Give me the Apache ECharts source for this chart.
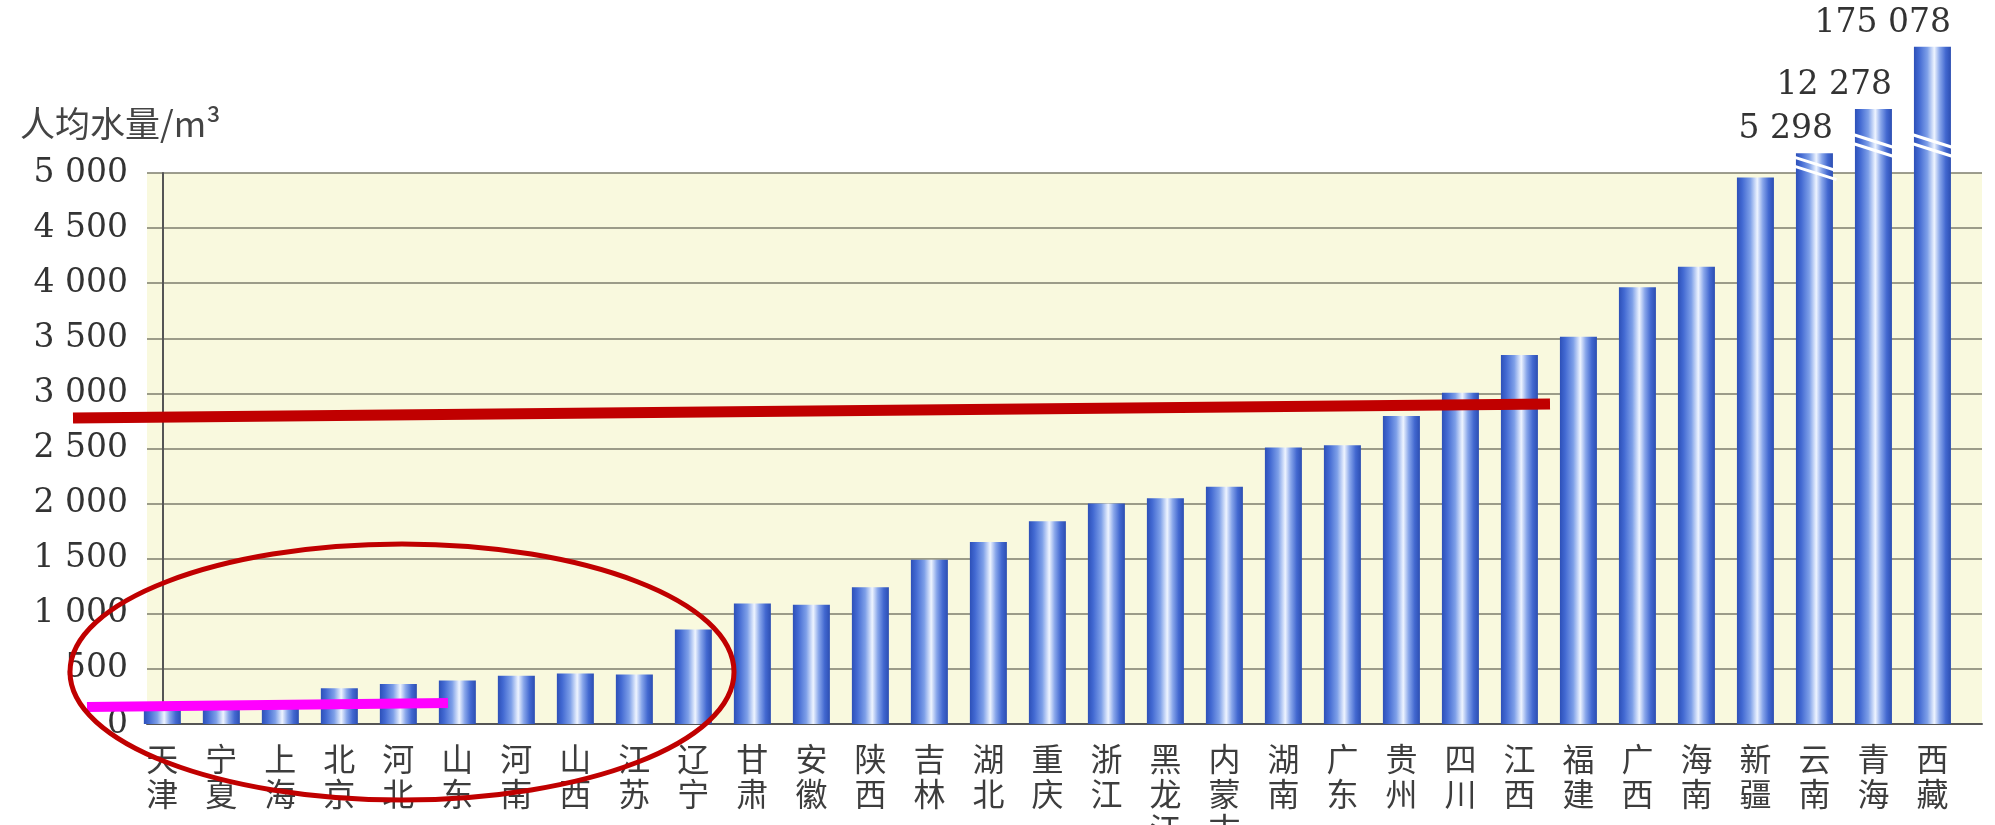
<!DOCTYPE html>
<html><head><meta charset="utf-8">
<script src="https://cdn.jsdelivr.net/npm/echarts@6/dist/echarts.min.js"></script>
<style>html,body{margin:0;padding:0;background:#fff}#c{width:1995px;height:825px}</style>
</head><body><div id="c"></div>
<script>
const categories = ['天津','宁夏','上海','北京','河北','山东','河南','山西','江苏','辽宁','甘肃','安徽','陕西','吉林','湖北','重庆','浙江','黑龙江','内蒙古','湖南','广东','贵州','四川','江西','福建','广西','海南','新疆','云南','青海','西藏'];
const waterPerCapita = [170,185,200,325,364,394,437,458,449,858,1093,1081,1241,1491,1651,1840,2000,2048,2154,2509,2530,2794,3005,3349,3514,3964,4150,4960,5298,12278,175078];
const brokenBars = ['云南','青海','西藏'];
const brokenBarDrawnValue = [5180, 5580, 6145];
const breakMarkValue = [5085, 5290, 5290];
const yTicks = [0,500,1000,1500,2000,2500,3000,3500,4000,4500,5000];

const fmt = v => String(v).replace(/\B(?=(\d{3})+(?!\d))/g, ' ');
const serif = "'DejaVu Serif', 'Liberation Serif', serif";
const cjk = "'Noto Sans CJK SC', sans-serif";

const chart = echarts.init(document.getElementById('c'));
const barColor = {
  type: 'linear', x: 0, y: 0, x2: 1, y2: 0,
  colorStops: [
    {offset: 0, color: '#2d50b8'},
    {offset: 0.14, color: '#4269d2'},
    {offset: 0.36, color: '#7d9fe8'},
    {offset: 0.55, color: '#eef4ff'},
    {offset: 0.7, color: '#87a5ea'},
    {offset: 0.86, color: '#4268d0'},
    {offset: 1, color: '#2c4eb2'}
  ]
};

const seriesData = categories.map((c, i) => {
  const b = brokenBars.indexOf(c);
  return [i, b >= 0 ? brokenBarDrawnValue[b] : waterPerCapita[i]];
});

chart.setOption({
  animation: false,
  backgroundColor: '#ffffff',
  title: {
    text: '人均水量/m³', left: 20, top: 106, padding: 0,
    textStyle: {fontFamily: cjk, fontSize: 35, fontWeight: 'normal', color: '#444'}
  },
  grid: {
    left: 147, right: 13, top: 173, bottom: 101,
    outerBoundsMode: 'none', containLabel: false,
    show: true, backgroundColor: '#f9f9de', borderWidth: 0
  },
  xAxis: {
    type: 'value', min: -0.26, max: 30.84,
    splitLine: {show: false},
    axisTick: {show: false},
    axisLine: {show: true, lineStyle: {color: '#555', width: 2}},
    axisLabel: {
      customValues: categories.map((c, i) => i),
      formatter: v => (categories[Math.round(v)] || '').split('').join('\n'),
      fontFamily: cjk, fontSize: 32, lineHeight: 35, color: '#3d3d3d', margin: 17
    }
  },
  yAxis: {
    type: 'value', min: yTicks[0], max: yTicks[yTicks.length - 1], interval: yTicks[1] - yTicks[0],
    axisLine: {show: true, lineStyle: {color: '#555', width: 2}},
    axisTick: {show: false},
    splitLine: {show: true, lineStyle: {color: '#7d7d6c', width: 1.5}},
    axisLabel: {formatter: v => fmt(v), fontFamily: serif, fontSize: 33, color: '#333', margin: 19}
  },
  series: [{
    type: 'bar', data: seriesData, barWidth: 37, clip: false,
    itemStyle: {color: barColor},
    label: {
      show: true, position: 'top', distance: 7, align: 'right', offset: [18.5, 0],
      formatter: p => brokenBars.includes(categories[p.dataIndex]) ? fmt(waterPerCapita[p.dataIndex]) : '',
      fontFamily: serif, fontSize: 33, color: '#333'
    }
  }]
});

const graphics = [];
brokenBars.forEach((name, k) => {
  const i = categories.indexOf(name);
  const [cx, cy] = chart.convertToPixel({gridIndex: 0}, [i, breakMarkValue[k]]);
  [0, 9].forEach(d => {
    graphics.push({
      type: 'line', z: 50,
      shape: {x1: cx - 22, y1: cy - 7 + d, x2: cx + 22, y2: cy + 7 + d},
      style: {stroke: '#ffffff', lineWidth: 3}
    });
  });
});
graphics.push(
  {type: 'line', z: 60, shape: {x1: 73, y1: 418, x2: 1550, y2: 404}, style: {stroke: '#c00000', lineWidth: 11}},
  {type: 'line', z: 60, shape: {x1: 87, y1: 707, x2: 448, y2: 703}, style: {stroke: '#ff00ff', lineWidth: 10}},
  {type: 'ellipse', z: 60, shape: {cx: 402, cy: 672, rx: 332, ry: 128}, style: {fill: 'none', stroke: '#c00000', lineWidth: 5}}
);
chart.setOption({graphic: graphics});
</script></body></html>
